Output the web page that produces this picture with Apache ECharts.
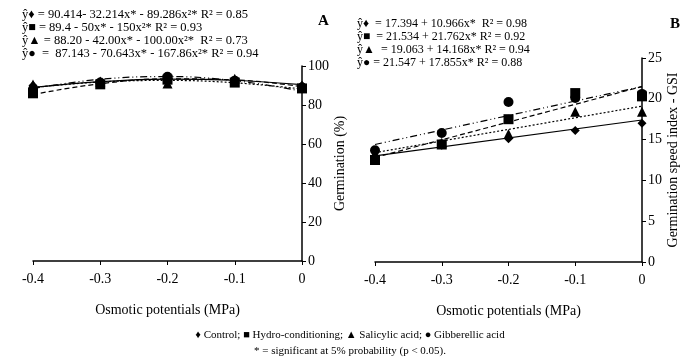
<!DOCTYPE html>
<html>
<head>
<meta charset="utf-8">
<script src="https://cdn.jsdelivr.net/npm/echarts@6/dist/echarts.min.js"></script>
<style>
  html, body { margin: 0; padding: 0; background: #fff; }
  #chart { width: 700px; height: 360px; }
</style>
</head>
<body>
<div id="chart"></div>
<script>
  // osmotic potentials (MPa)
  var potentials = [-0.4, -0.3, -0.2, -0.1, 0];
  var treatments = ['Control', 'Hydro-conditioning', 'Salicylic acid', 'Gibberellic acid'];

  // A - germination (%) observed
  var germControl = [90, 92, 93, 93, 90];
  var germHydro = [86, 90.6, 93, 91.5, 88.5];
  var germSalicylic = [90.5, 92, 91, 93.5, 90];
  var germGibberellic = [88, 91.5, 94.5, 92.5, 89];

  // A - fitted quadratic values at each potential
  var fitGermControl = [89.0, 92.0, 93.3, 92.7, 90.4];
  var fitGermHydro = [85.4, 90.9, 93.4, 92.9, 89.4];
  var fitGermSalicylic = [89.0, 91.8, 92.6, 91.4, 88.2];
  var fitGermGibberellic = [88.5, 93.2, 94.6, 92.5, 87.1];

  // B - germination speed index observed
  var gsiControl = [13.0, 14.3, 15.1, 16.1, 17.0];
  var gsiHydro = [12.5, 14.4, 17.5, 20.7, 20.3];
  var gsiSalicylic = [13.2, 14.6, 15.7, 18.4, 18.4];
  var gsiGibberellic = [13.7, 15.8, 19.6, 20.1, 20.6];

  // B - fitted lines at the ends (-0.4 and 0)
  var fitEnds = [-0.4, 0];
  var fitGsiControl = [13.0, 17.4];
  var fitGsiHydro = [12.8, 21.5];
  var fitGsiSalicylic = [13.4, 19.1];
  var fitGsiGibberellic = [14.4, 21.5];

  var eqA = [
    'ŷ♦ = 90.414- 32.214x* - 89.286x²* R² = 0.85',
    'ŷ■ = 89.4 - 50x* - 150x²* R² = 0.93',
    'ŷ▲ = 88.20 - 42.00x* - 100.00x²*  R² = 0.73',
    'ŷ●  =  87.143 - 70.643x* - 167.86x²* R² = 0.94'
  ];
  var eqB = [
    'ŷ♦  = 17.394 + 10.966x*  R² = 0.98',
    'ŷ■  = 21.534 + 21.762x* R² = 0.92',
    'ŷ▲  = 19.063 + 14.168x* R² = 0.94',
    'ŷ● = 21.547 + 17.855x* R² = 0.88'
  ];

  var symbols = ['diamond', 'rect', 'triangle', 'circle'];
  var symbolSizes = [9, 10, 10, 10];
  var lineTypes = ['solid', [5, 3], [2, 2], [7, 3, 1, 3, 1, 3]];

  var font = 'Liberation Serif';
  var pairs = function (xs, ys) {
    return xs.map(function (x, i) { return [x, ys[i]]; });
  };

  var chart = echarts.init(document.getElementById('chart'));

  var xAxisBase = function (gi) {
    return {
      gridIndex: gi, type: 'value', min: -0.4, max: 0, interval: 0.1,
      name: 'Osmotic potentials (MPa)', nameLocation: 'middle', nameGap: 42,
      nameTextStyle: { fontFamily: font, fontSize: 14, color: '#000' },
      axisLine: { lineStyle: { color: '#000', width: 1.5 } },
      axisTick: { lineStyle: { color: '#000' }, length: 4 },
      axisLabel: { fontFamily: font, fontSize: 14, color: '#000', margin: 11 },
      splitLine: { show: false }
    };
  };
  var yAxisBase = function (gi, max, interval, name) {
    return {
      gridIndex: gi, type: 'value', position: 'right', min: 0, max: max, interval: interval,
      name: name, nameLocation: 'middle', nameGap: 24, nameRotate: 90,
      nameTextStyle: { fontFamily: font, fontSize: 14, color: '#000' },
      axisLine: { show: true, lineStyle: { color: '#000', width: 1.5 } },
      axisTick: { show: true, lineStyle: { color: '#000' }, length: 4 },
      axisLabel: { fontFamily: font, fontSize: 14, color: '#000', margin: 6 },
      splitLine: { show: false }
    };
  };

  var observedA = [germControl, germHydro, germSalicylic, germGibberellic];
  var fittedA = [fitGermControl, fitGermHydro, fitGermSalicylic, fitGermGibberellic];
  var observedB = [gsiControl, gsiHydro, gsiSalicylic, gsiGibberellic];
  var fittedB = [fitGsiControl, fitGsiHydro, fitGsiSalicylic, fitGsiGibberellic];

  var series = [];
  treatments.forEach(function (name, i) {
    series.push({
      name: name, type: 'line', xAxisIndex: 0, yAxisIndex: 0, smooth: 0.4,
      data: pairs(potentials, fittedA[i]), showSymbol: false, silent: true,
      lineStyle: { color: '#000', width: 1.2, type: lineTypes[i] }, z: 2
    });
    series.push({
      name: name, type: 'scatter', xAxisIndex: 0, yAxisIndex: 0,
      data: pairs(potentials, observedA[i]), symbol: symbols[i], symbolSize: symbolSizes[i],
      itemStyle: { color: '#000', opacity: 1 }, z: 3
    });
    series.push({
      name: name, type: 'line', xAxisIndex: 1, yAxisIndex: 1,
      data: pairs(fitEnds, fittedB[i]), showSymbol: false, silent: true,
      lineStyle: { color: '#000', width: 1.2, type: lineTypes[i] }, z: 2
    });
    series.push({
      name: name, type: 'scatter', xAxisIndex: 1, yAxisIndex: 1,
      data: pairs(potentials, observedB[i]), symbol: symbols[i], symbolSize: symbolSizes[i],
      itemStyle: { color: '#000', opacity: 1 }, z: 3
    });
  });

  var graphics = [];
  eqA.forEach(function (t, i) {
    graphics.push({ type: 'text', left: 22, top: 8 + i * 13,
      style: { text: t, fontFamily: font, fontSize: 12.5, fill: '#000' } });
  });
  eqB.forEach(function (t, i) {
    graphics.push({ type: 'text', left: 357, top: 18 + i * 13,
      style: { text: t, fontFamily: font, fontSize: 12, fill: '#000' } });
  });
  graphics.push({ type: 'text', left: 318, top: 14,
    style: { text: 'A', fontFamily: font, fontSize: 15, fontWeight: 'bold', fill: '#000' } });
  graphics.push({ type: 'text', left: 670, top: 17,
    style: { text: 'B', fontFamily: font, fontSize: 15, fontWeight: 'bold', fill: '#000' } });
  graphics.push({ type: 'text', left: 'center', top: 330,
    style: { text: '♦ Control; ■ Hydro-conditioning; ▲ Salicylic acid; ● Gibberellic acid',
      fontFamily: font, fontSize: 11, fill: '#000' } });
  graphics.push({ type: 'text', left: 'center', top: 346,
    style: { text: '* = significant at 5% probability (p < 0.05).',
      fontFamily: font, fontSize: 11, fill: '#000' } });

  chart.setOption({
    animation: false,
    backgroundColor: '#fff',
    grid: [
      { left: 33, width: 269, top: 66, height: 195 },
      { left: 375, width: 267, top: 58, height: 204 }
    ],
    xAxis: [xAxisBase(0), xAxisBase(1)],
    yAxis: [
      yAxisBase(0, 100, 20, 'Germination (%)'),
      yAxisBase(1, 25, 5, 'Germination speed index - GSI')
    ],
    graphic: graphics,
    series: series
  });
</script>
</body>
</html>
